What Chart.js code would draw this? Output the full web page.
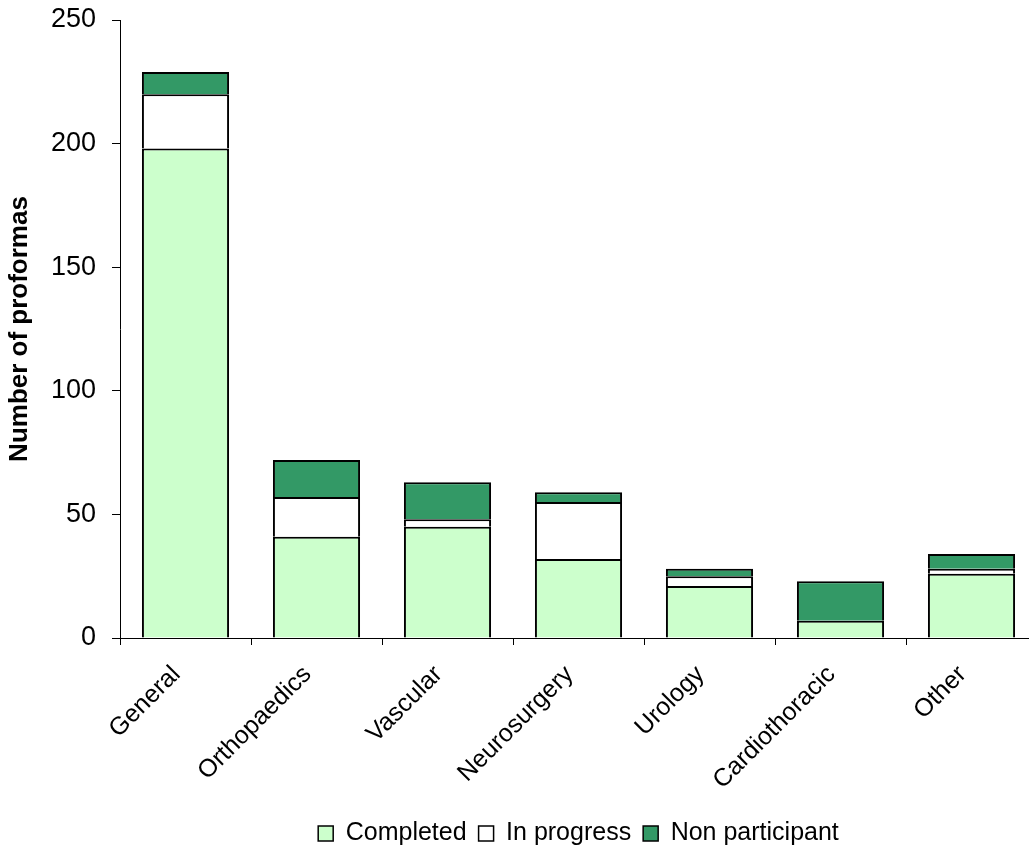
<!DOCTYPE html>
<html>
<head>
<meta charset="utf-8">
<script src="https://cdn.jsdelivr.net/npm/chart.js@4"></script>
<style>
html,body{margin:0;padding:0;background:#fff;overflow:hidden;}
#wrap{width:1029px;height:868px;position:relative;overflow:hidden;}
canvas{display:block;}
</style>
</head>
<body>
<div id="wrap"><canvas id="c" width="1040" height="868" style="width:1040px;height:868px"></canvas></div>
<script>
const categories = ["General","Orthopaedics","Vascular","Neurosurgery","Urology","Cardiothoracic","Other"];
const completed = [198, 41, 45, 32, 21, 7, 26];
const inProgress = [22, 16, 3, 23, 4, 0, 2];
const nonParticipant = [9, 15, 15, 4, 3, 16, 6];
const yTicks = [0, 50, 100, 150, 200, 250];

Chart.defaults.font.family = "'Liberation Sans', Arial, sans-serif";
Chart.defaults.color = "#000";

const bw = {top: 2, bottom: 0, left: 2, right: 2};

new Chart(document.getElementById('c'), {
  type: 'bar',
  data: {
    labels: categories,
    datasets: [
      {label: 'Completed', data: completed, backgroundColor: '#CCFFCC', borderColor: '#000', borderWidth: bw, borderSkipped: false},
      {label: 'In progress', data: inProgress, backgroundColor: '#FFFFFF', borderColor: '#000', borderWidth: bw, borderSkipped: false},
      {label: 'Non participant', data: nonParticipant, backgroundColor: '#339966', borderColor: '#000', borderWidth: bw, borderSkipped: false}
    ]
  },
  options: {
    responsive: false,
    animation: false,
    layout: {padding: {left: 0, right: 3, top: 20, bottom: 12}},
    datasets: {bar: {categoryPercentage: 1.0, barPercentage: 0.665}},
    plugins: {
      legend: {
        position: 'bottom',
        fullSize: false,
        labels: {boxWidth: 15, boxHeight: 15, font: {size: 25}, padding: 12, color: '#000', useBorderRadius: false,
          generateLabels: (chart) => chart.data.datasets.map((ds, i) => ({
            text: ds.label, fillStyle: ds.backgroundColor, strokeStyle: '#000', lineWidth: 1.5,
            hidden: false, datasetIndex: i, fontColor: '#000'
          }))
        }
      },
      tooltip: {enabled: false}
    },
    scales: {
      x: {
        stacked: true,
        grid: {drawOnChartArea: false, drawTicks: true, tickLength: 7, color: '#000', offset: true},
        border: {color: '#000', width: 1},
        ticks: {font: {size: 25}, maxRotation: 45, minRotation: 45, color: '#000', padding: 15, labelOffset: -9},
        afterFit: s => { s.height = 171; s.paddingLeft = 0; s.paddingRight = 0; }
      },
      y: {
        stacked: true,
        min: 0, max: 250,
        afterBuildTicks: s => { s.ticks = yTicks.map(v => ({value: v})); },
        grid: {drawOnChartArea: false, drawTicks: true, tickLength: 8, color: '#000'},
        border: {color: '#000', width: 1},
        ticks: {font: {size: 27}, color: '#000', padding: 16},
        title: {display: true, text: 'Number of proformas', font: {size: 26, weight: 'bold'}, color: '#000', padding: {top: 4, bottom: 0}},
        afterFit: s => { s.width = 120; s.paddingTop = 0; s.paddingBottom = 0; }
      }
    }
  }
});
</script>
</body>
</html>
